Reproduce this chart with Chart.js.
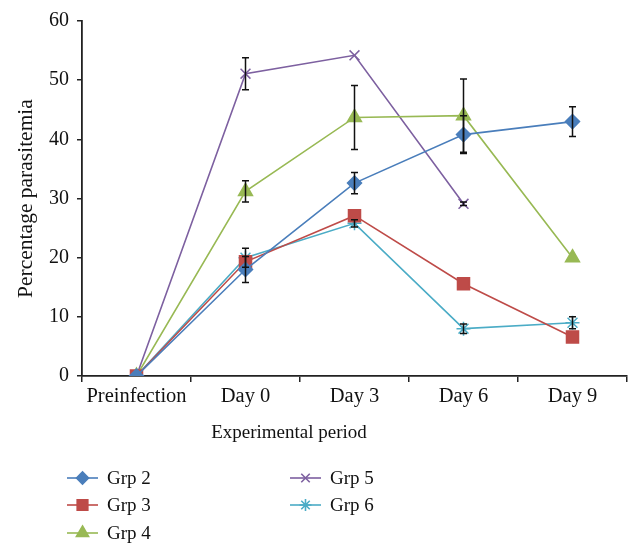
<!DOCTYPE html>
<html>
<head>
<meta charset="utf-8">
<script src="https://cdn.jsdelivr.net/npm/chart.js@4/dist/chart.umd.min.js"></script>
<style>
  body { margin: 0; background: #fff; }
  #wrap { position: relative; width: 642px; height: 557px; }
  #xtitle {
    position: absolute; left: 0; width: 578px; top: 421px;
    text-align: center; font: 19px "Liberation Serif", serif; color: #111;
  }
  .leg { position: absolute; display: flex; align-items: center; height: 24px;
         font: 19px "Liberation Serif", serif; color: #111; }
  .leg canvas { margin-right: 9px; }
</style>
</head>
<body>
<div id="wrap">
  <canvas id="chart" width="642" height="557"></canvas>
  <div id="xtitle">Experimental period</div>
  <div id="legend"></div>
</div>
<script>
// categories and values
const periods = ["Preinfection", "Day 0", "Day 3", "Day 6", "Day 9"];
const yTicks = [0, 10, 20, 30, 40, 50, 60];

const grp2 = [0, 18.0, 32.6, 40.8, 43.0];
const grp3 = [0, 19.3, 27.1, 15.6, 6.6];
const grp4 = [0, 31.2, 43.7, 44.0, 20.0];
const grp5 = [0, 51.1, 54.2, 29.1, null];
const grp6 = [0, 20.0, 25.8, 8.0, 9.0];

// +/- error values
const grp2Err = [0, 2.2, 1.8, 3.2, 2.5];
const grp3Err = [0, 0, 0, 0, 0];
const grp4Err = [0, 1.8, 5.4, 6.2, 0];
const grp5Err = [0, 2.7, 0, 0.3, 0];
const grp6Err = [0, 1.6, 0.6, 0.8, 1.0];

const groups = [
  { label: "Grp 2", data: grp2, err: grp2Err, color: "#4a7ebb", style: "rectRot", r: 7 },
  { label: "Grp 3", data: grp3, err: grp3Err, color: "#be4b48", style: "rect", r: 8.5 },
  { label: "Grp 4", data: grp4, err: grp4Err, color: "#98b954", style: "triangle", r: 8 },
  { label: "Grp 5", data: grp5, err: grp5Err, color: "#7d60a0", style: "crossRot", r: 7 },
  { label: "Grp 6", data: grp6, err: grp6Err, color: "#4bacc6", style: "star", r: 7 }
];

const FONT = "'Liberation Serif', serif";

// error bars drawn from the y scale
const errorBars = {
  id: "errorBars",
  afterDatasetsDraw(chart) {
    const ctx = chart.ctx;
    const y = chart.scales.y;
    ctx.save();
    ctx.strokeStyle = "#111";
    ctx.lineWidth = 1.5;
    chart.data.datasets.forEach((ds, i) => {
      const meta = chart.getDatasetMeta(i);
      ds.err.forEach((e, j) => {
        const v = ds.data[j];
        if (v === null || !e) return;
        const px = meta.data[j].x;
        const top = y.getPixelForValue(v + e);
        const bot = y.getPixelForValue(v - e);
        ctx.beginPath();
        ctx.moveTo(px, top); ctx.lineTo(px, bot);
        ctx.moveTo(px - 3.5, top); ctx.lineTo(px + 3.5, top);
        ctx.moveTo(px - 3.5, bot); ctx.lineTo(px + 3.5, bot);
        ctx.stroke();
      });
    });
    ctx.restore();
  }
};

new Chart(document.getElementById("chart"), {
  type: "line",
  data: {
    labels: periods,
    datasets: groups.map(g => ({
      label: g.label,
      data: g.data,
      err: g.err,
      borderColor: g.color,
      backgroundColor: g.color,
      borderWidth: 1.6,
      pointStyle: g.style,
      pointRadius: g.r,
      pointBorderWidth: 1.5,
      pointBorderColor: g.color,
      pointBackgroundColor: g.color,
      tension: 0,
      spanGaps: false
    }))
  },
  options: {
    responsive: false,
    animation: false,
    layout: { padding: { left: 0, right: 15, top: 21, bottom: 111 } },
    plugins: { legend: { display: false }, tooltip: { enabled: false } },
    scales: {
      x: {
        offset: true,
        grid: { offset: true, drawOnChartArea: false, tickLength: 6, color: "#222", lineWidth: 1.5 },
        border: { color: "#222", width: 1.8 },
        ticks: { color: "#111", font: { family: FONT, size: 20.5 }, padding: 2, maxRotation: 0 },
        afterFit(scale) { scale.height = 70; }
      },
      y: {
        min: 0, max: 60,
        afterBuildTicks(scale) { scale.ticks = yTicks.map(v => ({ value: v })); },
        grid: { drawOnChartArea: false, tickLength: 5, color: "#222", lineWidth: 1.5 },
        border: { color: "#222", width: 1.8 },
        ticks: { color: "#111", font: { family: FONT, size: 20 }, padding: 8 },
        title: { display: true, text: "Percentage parasitemia", color: "#111",
                 font: { family: FONT, size: 21.5 }, padding: { top: 13, bottom: 4 } },
        afterFit(scale) { scale.width = 82; }
      }
    }
  },
  plugins: [errorBars]
});

// legend in two columns
const legendPos = [
  { x: 67, y: 478 }, { x: 67, y: 505 }, { x: 67, y: 533 },
  { x: 290, y: 478 }, { x: 290, y: 505 }
];
const legend = document.getElementById("legend");
groups.forEach((g, i) => {
  const item = document.createElement("div");
  item.className = "leg";
  item.style.left = legendPos[i].x + "px";
  item.style.top = (legendPos[i].y - 12) + "px";
  const c = document.createElement("canvas");
  c.width = 31; c.height = 20;
  const cx = c.getContext("2d");
  cx.strokeStyle = g.color; cx.lineWidth = 1.6;
  cx.beginPath(); cx.moveTo(0, 10); cx.lineTo(31, 10); cx.stroke();
  cx.fillStyle = g.color;
  Chart.helpers.drawPoint(cx, { pointStyle: g.style, radius: g.r - 1, borderWidth: 1.5, rotation: 0 }, 15.5, 10);
  const s = document.createElement("span");
  s.textContent = g.label;
  item.appendChild(c); item.appendChild(s);
  legend.appendChild(item);
});
</script>
</body>
</html>
